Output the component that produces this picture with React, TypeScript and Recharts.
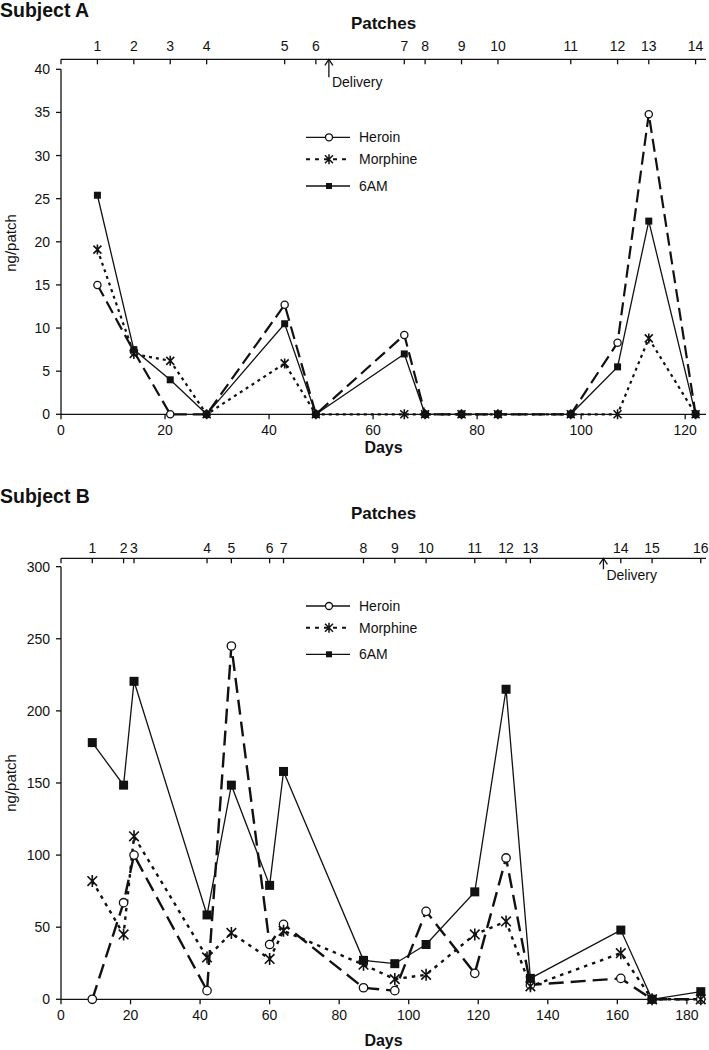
import React from "react";
import {
  LineChart,
  Line,
  XAxis,
  YAxis,
  ReferenceLine,
  ReferenceDot,
  Legend,
} from "recharts";

const FONT = '"Liberation Sans", Arial, Helvetica, sans-serif';
const INK = "#111";

// Subject A
const daysA = [7, 14, 21, 28, 43, 49, 66, 70, 77, 84, 98, 107, 113, 122];
const heroinA = [15.0, 7.3, 0, 0, 12.7, 0, 9.2, 0, 0, 0, 0, 8.3, 34.8, 0];
const morphineA = [19.1, 7.0, 6.2, 0, 5.9, 0, 0, 0, 0, 0, 0, 0, 8.8, 0];
const sixAmA = [25.4, 7.5, 4.0, 0, 10.5, 0, 7.0, 0, 0, 0, 0, 5.5, 22.4, 0];
const patchLabelsA = ["1", "2", "3", "4", "5", "6", "7", "8", "9", "10", "11", "12", "13", "14"];
const dayTicksA = [0, 20, 40, 60, 80, 100, 120];
const yTicksA = [0, 5, 10, 15, 20, 25, 30, 35, 40];
const deliveryA = 51.5;

// Subject B
const daysB = [9, 18, 21, 42, 49, 60, 64, 87, 96, 105, 119, 128, 135, 161, 170, 184];
const heroinB = [0, 67, 100, 6, 245, 38, 52, 8, 6, 61, 18, 98, 10, 14.5, 0, 0];
const morphineB = [82, 45, 113, 29, 46, 28, 47.5, 24, 14, 17, 45, 54, 9, 32, 0, 0];
const sixAmB = [178, 148.5, 220.5, 58.5, 148.5, 79, 158, 27, 24.7, 38, 74.5, 215, 14.5, 48, 0, 5.3];
const patchLabelsB = ["1", "2", "3", "4", "5", "6", "7", "8", "9", "10", "11", "12", "13", "14", "15", "16"];
const dayTicksB = [0, 20, 40, 60, 80, 100, 120, 140, 160, 180];
const yTicksB = [0, 50, 100, 150, 200, 250, 300];
const deliveryB = 156;

const buildRows = (days: number[], heroin: number[], morphine: number[], sixAm: number[]) =>
  days.map((day, i) => ({ day, heroin: heroin[i], morphine: morphine[i], sixAm: sixAm[i] }));

// markers
const openCircle = (r: number) => (p: any) =>
  p.cx == null ? null : (
    <circle key={`c${p.index}`} cx={p.cx} cy={p.cy} r={r} fill="#fff" stroke={INK} strokeWidth={1.3} />
  );

const starPath = (cx: number, cy: number, s: number) => {
  const d = s * 0.8;
  return `M${cx},${cy - s}L${cx},${cy + s}M${cx - d},${cy - d}L${cx + d},${cy + d}M${cx - d},${cy + d}L${cx + d},${cy - d}`;
};

const star = (s: number) => (p: any) =>
  p.cx == null ? null : (
    <path key={`s${p.index}`} d={starPath(p.cx, p.cy, s)} stroke={INK} strokeWidth={1.6} fill="none" />
  );

const square = (size: number) => (p: any) =>
  p.cx == null ? null : (
    <rect key={`q${p.index}`} x={p.cx - size / 2} y={p.cy - size / 2} width={size} height={size} fill={INK} />
  );

const patchTick = (days: number[], labels: string[], gap: number) => (p: any) => {
  const idx = days.indexOf(p.payload.value);
  return (
    <g>
      <line x1={p.x} x2={p.x} y1={p.y} y2={p.y + 5} stroke={INK} strokeWidth={1.3} />
      <text x={p.x} y={p.y - gap} textAnchor="middle" fontSize={14} fontFamily={FONT} fill={INK}>
        {idx >= 0 ? labels[idx] : ""}
      </text>
    </g>
  );
};

const deliveryMark = (stem: number, textDy: number) => (p: any) => (
  <g>
    <line x1={p.cx} x2={p.cx} y1={p.cy} y2={p.cy + stem} stroke={INK} strokeWidth={1.3} />
    <path
      d={`M${p.cx - 4},${p.cy + 6}L${p.cx},${p.cy}L${p.cx + 4},${p.cy + 6}`}
      fill="none"
      stroke={INK}
      strokeWidth={1.3}
    />
    <text x={p.cx + 3} y={p.cy + textDy} fontSize={14} fontFamily={FONT} fill={INK}>
      Delivery
    </text>
  </g>
);

const LegendBox = ({ rows }: { rows: number[] }) => (
  <svg width={140} height={70} style={{ display: "block" }}>
    <line x1={6} x2={50} y1={rows[0]} y2={rows[0]} stroke={INK} strokeWidth={1.3} />
    <circle cx={29} cy={rows[0]} r={3.5} fill="#fff" stroke={INK} strokeWidth={1.3} />
    <text x={59} y={rows[0] + 5} fontSize={14} fontFamily={FONT} fill={INK}>Heroin</text>

    <line x1={6} x2={50} y1={rows[1]} y2={rows[1]} stroke={INK} strokeWidth={2} strokeDasharray="4 5" />
    <path d={starPath(29, rows[1], 5)} stroke={INK} strokeWidth={1.5} fill="none" />
    <text x={59} y={rows[1] + 5} fontSize={14} fontFamily={FONT} fill={INK}>Morphine</text>

    <line x1={6} x2={50} y1={rows[2]} y2={rows[2]} stroke={INK} strokeWidth={1.3} />
    <rect x={26} y={rows[2] - 3} width={6} height={6} fill={INK} />
    <text x={59} y={rows[2] + 5} fontSize={14} fontFamily={FONT} fill={INK}>6AM</text>
  </svg>
);

const Caption = ({ text, x, y, size, bold, rotate }: any) => (
  <div
    style={{
      position: "absolute",
      left: x,
      top: y,
      transform: `translate(-50%, -50%)${rotate ? " rotate(-90deg)" : ""}`,
      fontFamily: FONT,
      fontSize: size,
      fontWeight: bold ? 700 : 400,
      lineHeight: 1,
      whiteSpace: "nowrap",
      color: INK,
    }}
  >
    {text}
  </div>
);

const Title = ({ text, top }: any) => (
  <div
    style={{
      position: "absolute",
      left: 0,
      top,
      fontFamily: FONT,
      fontSize: 19.5,
      fontWeight: 700,
      lineHeight: 1.1,
      color: INK,
    }}
  >
    {text}
  </div>
);

interface PanelProps {
  top: number;
  height: number;
  margin: { top: number; right: number; bottom: number; left: number };
  rows: any[];
  days: number[];
  patchLabels: string[];
  dayTicks: number[];
  yTicks: number[];
  xMax: number;
  yMax: number;
  yLimit: number;
  delivery: number;
  stem: number;
  textDy: number;
  patchGap: number;
  legendTop: number;
  legendRows: number[];
  big: boolean;
}

const Panel = (p: PanelProps) => (
  <div style={{ position: "absolute", left: 0, top: p.top }}>
    <LineChart width={709} height={p.height} data={p.rows} margin={p.margin}>
      <XAxis
        xAxisId="top"
        orientation="top"
        type="number"
        dataKey="day"
        domain={[0, p.xMax]}
        ticks={[0, ...p.days]}
        interval={0}
        height={50}
        tickSize={0}
        tickMargin={0}
        tickLine={false}
        axisLine={{ stroke: INK, strokeWidth: 1.3 }}
        tick={patchTick(p.days, p.patchLabels, p.patchGap)}
      />
      <XAxis
        type="number"
        dataKey="day"
        domain={[0, p.xMax]}
        ticks={p.dayTicks}
        interval={0}
        height={50}
        tickSize={5}
        tickMargin={6}
        tickLine={{ stroke: INK, strokeWidth: 1.3 }}
        axisLine={{ stroke: INK, strokeWidth: 1.3 }}
        tick={{ fill: INK, fontSize: 14, fontFamily: FONT }}
      />
      <YAxis
        type="number"
        domain={[0, p.yMax]}
        ticks={p.yTicks}
        interval={0}
        width={61}
        tickSize={5}
        tickMargin={6}
        axisLine={false}
        tickLine={{ stroke: INK, strokeWidth: 1.3 }}
        tick={{ fill: INK, fontSize: 14, fontFamily: FONT }}
      />
      <ReferenceLine
        segment={[
          { x: 0, y: 0 },
          { x: 0, y: p.yLimit },
        ]}
        stroke={INK}
        strokeWidth={1.3}
        ifOverflow="visible"
      />
      <ReferenceDot
        x={p.delivery}
        y={p.yMax}
        ifOverflow="visible"
        shape={deliveryMark(p.stem, p.textDy)}
      />
      <Line
        dataKey="heroin"
        stroke={INK}
        strokeWidth={p.big ? 2.4 : 2.2}
        strokeDasharray={p.big ? "15 7" : "13 6"}
        dot={openCircle(p.big ? 4.2 : 3.6)}
        isAnimationActive={false}
      />
      <Line
        dataKey="morphine"
        stroke={INK}
        strokeWidth={p.big ? 2.4 : 2.2}
        strokeDasharray={p.big ? "3.5 5" : "3 4"}
        dot={star(p.big ? 6 : 5)}
        isAnimationActive={false}
      />
      <Line
        dataKey="sixAm"
        stroke={INK}
        strokeWidth={1.3}
        dot={square(p.big ? 9 : 7)}
        isAnimationActive={false}
      />
      <Legend
        layout="vertical"
        align="center"
        verticalAlign="middle"
        wrapperStyle={{ left: 300, top: p.legendTop, width: 140, height: 70 }}
        content={() => <LegendBox rows={p.legendRows} />}
      />
    </LineChart>
  </div>
);

export default function App() {
  return (
    <div style={{ position: "absolute", left: 0, top: 0, width: 709, height: 1050, background: "#fff" }}>
      <Panel
        top={0}
        height={470}
        margin={{ top: 9.3, right: 3, bottom: 5.7, left: 0 }}
        rows={buildRows(daysA, heroinA, morphineA, sixAmA)}
        days={daysA}
        patchLabels={patchLabelsA}
        dayTicks={dayTicksA}
        yTicks={yTicksA}
        xMax={124}
        yMax={41.16}
        yLimit={40}
        delivery={deliveryA}
        stem={18}
        textDy={27.5}
        patchGap={8}
        legendTop={128}
        legendRows={[9.3, 31.3, 58]}
        big={false}
      />
      <Panel
        top={500}
        height={550}
        margin={{ top: 8.3, right: 3, bottom: 0.7, left: 0 }}
        rows={buildRows(daysB, heroinB, morphineB, sixAmB)}
        days={daysB}
        patchLabels={patchLabelsB}
        dayTicks={dayTicksB}
        yTicks={yTicksB}
        xMax={185.5}
        yMax={305.8}
        yLimit={300}
        delivery={deliveryB}
        stem={11}
        textDy={22}
        patchGap={5}
        legendTop={97}
        legendRows={[9, 30.7, 57.3]}
        big={true}
      />
      <Title text="Subject A" top={0} />
      <Title text="Subject B" top={486} />
      <Caption text="Patches" x={383.5} y={22.7} size={17} bold />
      <Caption text="Patches" x={383.5} y={512.7} size={17} bold />
      <Caption text="Days" x={383.5} y={448} size={16} bold />
      <Caption text="Days" x={383.5} y={1041} size={16} bold />
      <Caption text="ng/patch" x={10} y={242.5} size={15} rotate />
      <Caption text="ng/patch" x={10} y={783} size={15} rotate />
    </div>
  );
}
